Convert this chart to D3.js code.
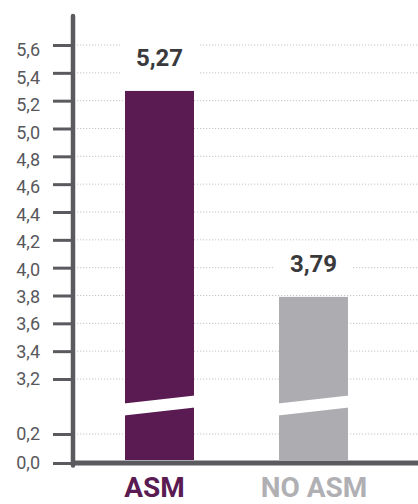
<!DOCTYPE html>
<html>
<head>
<meta charset="utf-8">
<script src="https://cdn.jsdelivr.net/npm/d3@7"></script>
<style>
  html, body { margin: 0; padding: 0; background: #fff; }
  svg { display: block; font-family: Roboto, "Noto Sans", sans-serif; }
</style>
</head>
<body>
<svg id="chart"></svg>
<script>
// data
const categories = ["ASM", "NO ASM"];
const values = [5.27, 3.79];
const barColors = ["#5a1b53", "#adadb1"];
const labelColors = ["#5a1b53", "#b0b0b4"];
const tickValues = [0, 0.2, 3.2, 3.4, 3.6, 3.8, 4.0, 4.2, 4.4, 4.6, 4.8, 5.0, 5.2, 5.4, 5.6];

const W = 418, H = 504;
const svg = d3.select("#chart").attr("width", W).attr("height", H);

const axisX = 73;
const fmt = d3.formatLocale({ decimal: ",", thousands: ".", grouping: [3], currency: ["", ""] }).format;

// broken axis: 0-0.2 at the bottom, 3.2-5.6 above it
const y = d3.scaleLinear()
  .domain([0, 0.2, 3.2, 5.6])
  .range([463, 434, 379, 45]);

// tick labels in the original sit a little lower toward the top
const yLabel = d3.scaleLinear()
  .domain([0, 0.2, 3.2, 5.6])
  .range([463, 434, 379, 50]);

const x = d3.scaleBand()
  .domain(categories)
  .range([48, 425])
  .paddingInner(0.552)
  .paddingOuter(0.5);

// dotted grid lines
svg.append("g")
  .selectAll("line")
  .data(tickValues.filter(d => d > 0))
  .enter()
  .append("line")
  .attr("x1", axisX + 4)
  .attr("x2", W)
  .attr("y1", d => y(d))
  .attr("y2", d => y(d))
  .attr("stroke", "#c4c4c4")
  .attr("stroke-width", 1)
  .attr("stroke-dasharray", "1.2,1.8");

// y axis (ticks + labels drawn by d3.axisLeft)
const yAxis = svg.append("g")
  .attr("transform", `translate(${axisX},0)`)
  .call(d3.axisLeft(y).tickValues(tickValues).tickFormat(d => fmt(".1f")(d)).tickSize(20).tickPadding(13));

yAxis.select(".domain").remove();
yAxis.selectAll(".tick line").attr("stroke", "#5b5b5f").attr("stroke-width", 3);
yAxis.selectAll(".tick text")
  .attr("y", d => yLabel(d) - y(d))
  .attr("fill", "#58585c")
  .style("font-size", "18px")
  .style("font-family", "Roboto, sans-serif");

// bars
const data = categories.map((c, i) => ({ c, v: values[i], color: barColors[i], lc: labelColors[i] }));

svg.append("g")
  .selectAll("rect")
  .data(data)
  .enter()
  .append("rect")
  .attr("x", d => x(d.c))
  .attr("y", d => y(d.v))
  .attr("width", x.bandwidth())
  .attr("height", d => y(0) - 3 - y(d.v))
  .attr("fill", d => d.color);

// white diagonal break across each bar
const breakY = (y(0.2) + y(3.2)) / 2 - 1;
const gap = 6, tilt = 4;
svg.append("g")
  .selectAll("polygon")
  .data(data)
  .enter()
  .append("polygon")
  .attr("points", d => {
    const x0 = x(d.c) - 1, x1 = x(d.c) + x.bandwidth() + 1;
    return [
      [x0, breakY + gap + tilt],
      [x1, breakY + gap - tilt],
      [x1, breakY - gap - tilt],
      [x0, breakY - gap + tilt]
    ].join(" ");
  })
  .attr("fill", "#fff");

// value labels with white background over the grid
const labels = svg.append("g")
  .selectAll("g")
  .data(data)
  .enter()
  .append("g")
  .attr("transform", d => `translate(${x(d.c) + x.bandwidth() / 2},${y(d.v) - 25})`);

labels.append("rect")
  .attr("x", -39)
  .attr("y", -26)
  .attr("width", 78)
  .attr("height", 36)
  .attr("fill", "#fff");

labels.append("text")
  .attr("text-anchor", "middle")
  .attr("fill", "#3a3a3c")
  .style("font-size", "24px")
  .style("font-weight", "bold")
  .text(d => fmt(".2f")(d.v));

// axes lines
svg.append("line")
  .attr("x1", axisX).attr("x2", axisX)
  .attr("y1", 16).attr("y2", y(0) + 2.5)
  .attr("stroke", "#5b5b5f")
  .attr("stroke-width", 4.5)
  .attr("stroke-linecap", "round");

svg.append("line")
  .attr("x1", axisX).attr("x2", W)
  .attr("y1", y(0)).attr("y2", y(0))
  .attr("stroke", "#5b5b5f")
  .attr("stroke-width", 5);

// category labels
svg.append("g")
  .selectAll("text")
  .data(data)
  .enter()
  .append("text")
  .attr("x", d => x(d.c) + x.bandwidth() / 2)
  .attr("dx", (d, i) => (i === 0 ? -5 : 0.5))
  .attr("y", 497)
  .attr("text-anchor", "middle")
  .attr("fill", d => d.lc)
  .style("font-size", "28px")
  .style("font-weight", "bold")
  .text(d => d.c);
</script>
</body>
</html>
